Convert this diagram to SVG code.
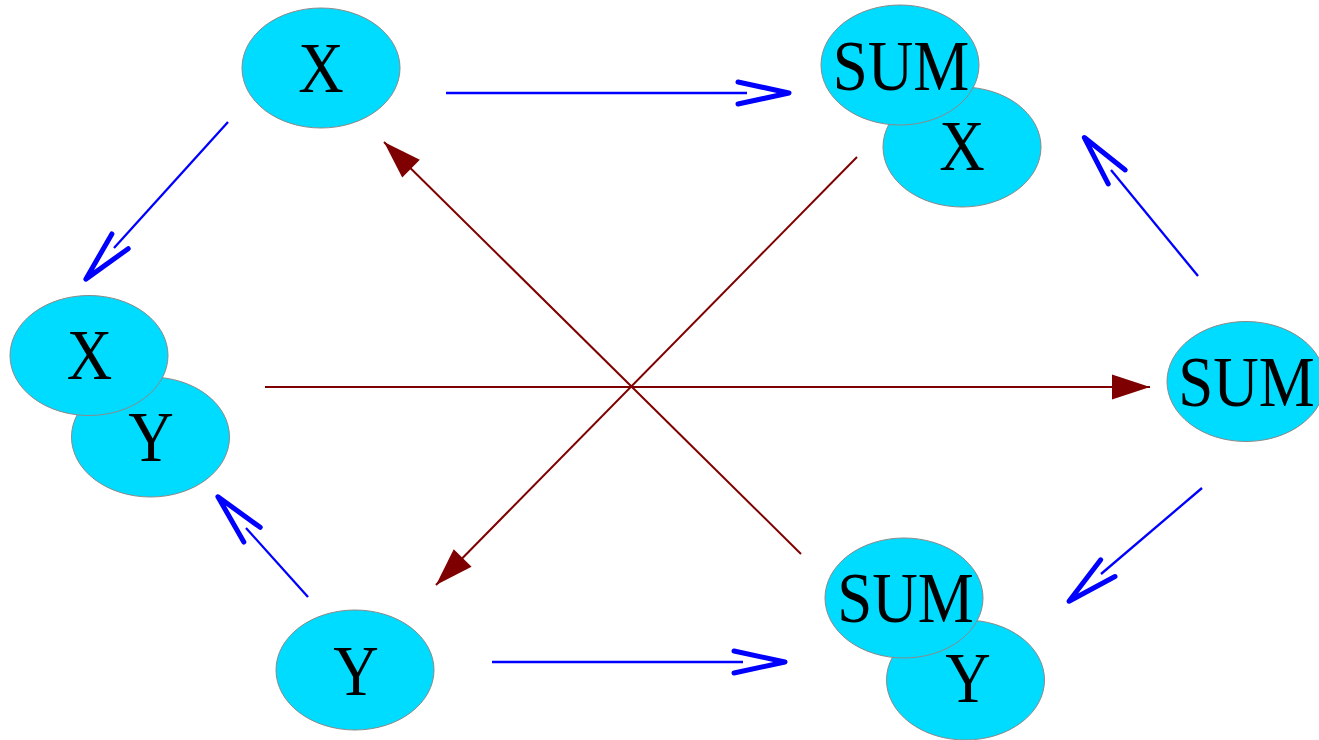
<svg xmlns="http://www.w3.org/2000/svg" width="1319" height="740" viewBox="0 0 1319 740">
<style>
.node ellipse { fill: #00dcff; stroke: #8a8a8a; stroke-width: 1; }
.node text { font-family: "Liberation Serif", "Times New Roman", serif; font-size: 63px; fill: #000; text-anchor: middle; }
.blue { stroke: #0000ff; stroke-width: 2.3; fill: none; marker-end: url(#vhead); }
.red { stroke: #7f0000; stroke-width: 2; fill: none; marker-end: url(#tri); }
</style>
<defs>
<marker id="vhead" markerUnits="userSpaceOnUse" orient="auto" refX="0" refY="0" markerWidth="80" markerHeight="40" viewBox="-20 -20 80 40" overflow="visible">
<path d="M -9,-11 L 42,0 L -9,11" fill="none" stroke="#0000ff" stroke-width="5" stroke-linecap="round" stroke-linejoin="round"/>
</marker>
<marker id="tri" markerUnits="userSpaceOnUse" orient="auto" refX="0" refY="0" markerWidth="60" markerHeight="40" viewBox="-50 -20 60 40" overflow="visible">
<path d="M 0,0 L -38,-12.5 L -38,12.5 Z" fill="#7f0000"/>
</marker>
</defs>
<g id="connectors">
<line class="blue" x1="446" y1="93" x2="747" y2="93"/>
<line class="blue" x1="228" y1="122" x2="114" y2="248"/>
<line class="blue" x1="1198" y1="276" x2="1111" y2="170"/>
<line class="blue" x1="1202" y1="488" x2="1101" y2="574"/>
<line class="blue" x1="308" y1="597" x2="246" y2="528"/>
<line class="blue" x1="492" y1="662" x2="743" y2="662"/>
<line class="red" x1="265" y1="387" x2="1150" y2="387"/>
<line class="red" x1="857" y1="157" x2="436" y2="585"/>
<line class="red" x1="801" y1="554" x2="384" y2="142"/>
</g>
<g id="node-x" class="node">
<ellipse cx="321" cy="68" rx="79" ry="60"/>
<text transform="translate(321,92) scale(1,1.13)">X</text>
</g>
<g id="node-sum-x" class="node">
<ellipse cx="962" cy="147" rx="79" ry="60"/>
<text transform="translate(962,170) scale(1,1.13)">X</text>
<ellipse cx="900" cy="65" rx="79" ry="60"/>
<text transform="translate(901,90) scale(1,1.13)">SUM</text>
</g>
<g id="node-x-y" class="node">
<ellipse cx="150.5" cy="437" rx="79" ry="60"/>
<text transform="translate(151,461) scale(1,1.13)">Y</text>
<ellipse cx="89" cy="355.5" rx="79" ry="60"/>
<text transform="translate(89.5,379) scale(1,1.13)">X</text>
</g>
<g id="node-sum" class="node">
<ellipse cx="1246" cy="381.5" rx="79" ry="60"/>
<text transform="translate(1246.5,406) scale(1,1.13)">SUM</text>
</g>
<g id="node-y" class="node">
<ellipse cx="355" cy="670" rx="79" ry="60"/>
<text transform="translate(356,695) scale(1,1.13)">Y</text>
</g>
<g id="node-sum-y" class="node">
<ellipse cx="965.5" cy="680" rx="79" ry="60"/>
<text transform="translate(968,702) scale(1,1.13)">Y</text>
<ellipse cx="904" cy="598" rx="79" ry="60"/>
<text transform="translate(905.5,622) scale(1,1.13)">SUM</text>
</g>
</svg>
